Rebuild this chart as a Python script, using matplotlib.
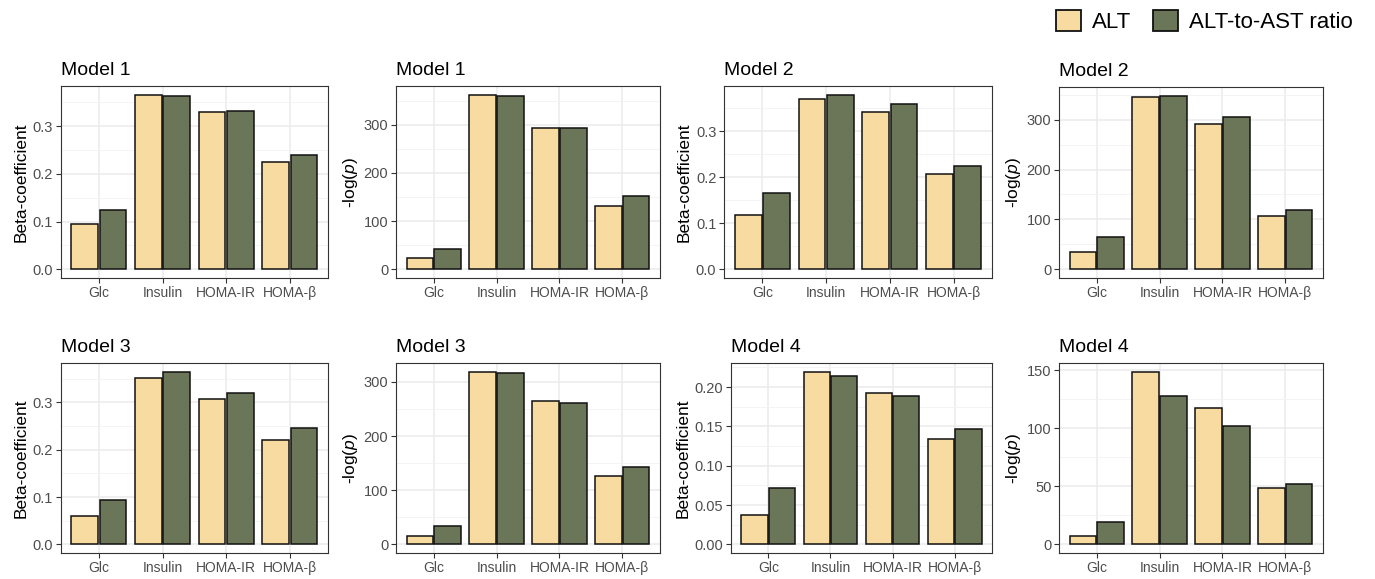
import numpy as np
import matplotlib
matplotlib.use("Agg")
import matplotlib.pyplot as plt
from matplotlib.patches import Patch
from matplotlib.ticker import MultipleLocator, FormatStrFormatter

plt.rcParams['font.family'] = ['Liberation Sans', 'DejaVu Sans']
plt.rcParams['mathtext.fontset'] = 'custom'
plt.rcParams['mathtext.it'] = 'Liberation Sans:italic'
plt.rcParams['mathtext.rm'] = 'Liberation Sans'

categories = ['Glc', 'Insulin', 'HOMA-IR', 'HOMA-β']
series_names = ['ALT', 'ALT-to-AST ratio']

# Model 1
m1_beta_alt = [0.094, 0.366, 0.330, 0.224]
m1_beta_ratio = [0.124, 0.364, 0.331, 0.240]
m1_logp_alt = [24, 362, 292, 132]
m1_logp_ratio = [42, 359, 294, 152]
# Model 2
m2_beta_alt = [0.117, 0.369, 0.341, 0.207]
m2_beta_ratio = [0.166, 0.379, 0.359, 0.224]
m2_logp_alt = [34, 345, 292, 107]
m2_logp_ratio = [64, 348, 305, 118]
# Model 3
m3_beta_alt = [0.059, 0.352, 0.307, 0.221]
m3_beta_ratio = [0.094, 0.365, 0.320, 0.246]
m3_logp_alt = [16, 319, 264, 127]
m3_logp_ratio = [34, 316, 261, 143]
# Model 4
m4_beta_alt = [0.0374, 0.2197, 0.1924, 0.1345]
m4_beta_ratio = [0.0723, 0.2147, 0.1882, 0.147]
m4_logp_alt = [6.8, 149, 118, 48.5]
m4_logp_ratio = [19.7, 128, 102, 52.5]

alt_color = '#F8DBA0'
ratio_color = '#6B7558'

W, H = 1375, 579
fig = plt.figure(figsize=(W / 100, H / 100), dpi=100)

beta_label = 'Beta-coefficient'
logp_label = '-log($\\it{p}$)'

panels = [
    # (title, ylabel, alt, ratio, step, fmt, left, top, right, bottom) in pixels
    ('Model 1', beta_label, m1_beta_alt, m1_beta_ratio, 0.1, '%.1f', 60.7, 86, 328, 278),
    ('Model 1', logp_label, m1_logp_alt, m1_logp_ratio, 100, '%d', 396, 86, 660, 278),
    ('Model 2', beta_label, m2_beta_alt, m2_beta_ratio, 0.1, '%.1f', 724, 86, 992, 278),
    ('Model 2', logp_label, m2_logp_alt, m2_logp_ratio, 100, '%d', 1059, 87, 1323, 278),
    ('Model 3', beta_label, m3_beta_alt, m3_beta_ratio, 0.1, '%.1f', 60.7, 363, 328, 553),
    ('Model 3', logp_label, m3_logp_alt, m3_logp_ratio, 100, '%d', 396, 363, 660, 553),
    ('Model 4', beta_label, m4_beta_alt, m4_beta_ratio, 0.05, '%.2f', 731, 363, 992, 553),
    ('Model 4', logp_label, m4_logp_alt, m4_logp_ratio, 50, '%d', 1059, 363, 1323, 553),
]

x = np.arange(len(categories))
bw = 0.42
off = 0.222

for title, ylab, alt, ratio, step, fmt, l, t, r, b in panels:
    ax = fig.add_axes([l / W, (H - b) / H, (r - l) / W, (b - t) / H])
    ax.set_axisbelow(True)
    ax.bar(x - off, alt, width=bw, color=alt_color, edgecolor='#111111', linewidth=1.1, zorder=3)
    ax.bar(x + off, ratio, width=bw, color=ratio_color, edgecolor='#111111', linewidth=1.1, zorder=3)
    top = max(max(alt), max(ratio))
    ax.set_ylim(-0.05 * top, 1.05 * top)
    ax.set_xlim(-0.6, len(categories) - 0.4)
    ax.yaxis.set_major_locator(MultipleLocator(step))
    ax.yaxis.set_minor_locator(MultipleLocator(step / 2))
    ax.yaxis.set_major_formatter(FormatStrFormatter(fmt))
    ax.set_xticks(x)
    ax.set_xticklabels(categories)
    ax.grid(which='major', color='#EBEBEB', linewidth=1.1)
    ax.grid(which='minor', axis='y', color='#F2F2F2', linewidth=0.6)
    ax.tick_params(axis='both', which='major', length=3.5, width=0.8, color='#333333',
                   labelcolor='#4D4D4D', labelsize=10, pad=2)
    ax.tick_params(axis='y', which='major', labelsize=10.5)
    ax.tick_params(axis='both', which='minor', length=0)
    for s in ax.spines.values():
        s.set_color('#333333')
        s.set_linewidth(0.8)
    ax.set_ylabel(ylab, fontsize=12.5, color='black', labelpad=3)
    ax.set_title(title, loc='left', fontsize=14, pad=8)

handles = [Patch(facecolor=alt_color, edgecolor='#111111', linewidth=1.3),
           Patch(facecolor=ratio_color, edgecolor='#111111', linewidth=1.3)]
fig.legend(handles, series_names, loc='upper right', bbox_to_anchor=(0.995, 1.01), ncol=2,
           frameon=False, fontsize=16, handlelength=1.1, handleheight=1.1,
           handletextpad=0.5, columnspacing=1.0, borderaxespad=0.3)

fig.savefig('out.png', dpi=100)
